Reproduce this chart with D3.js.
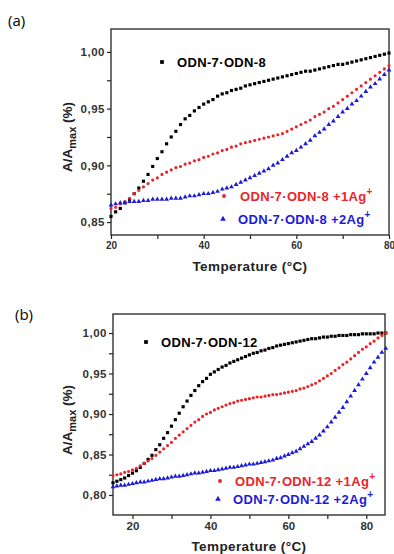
<!DOCTYPE html>
<html>
<head>
<meta charset="utf-8">
<script src="https://cdn.jsdelivr.net/npm/d3@7"></script>
<style>
  body { margin: 0; background: #fff; }
  text { font-family: "Liberation Sans", Arial, sans-serif; }
</style>
</head>
<body>
<div class="chart"></div>
<script>
const WIDTH = 394, HEIGHT = 554;

// panel (a): ODN-7·ODN-8
const tempsA = [20,21,22,23,24,25,26,27,28,29,30,31,32,33,34,35,36,37,38,39,40,41,42,43,44,45,46,47,48,49,
  50,51,52,53,54,55,56,57,58,59,60,61,62,63,64,65,66,67,68,69,70,71,72,73,74,75,76,77,78,79,80];
const odn8 = [.855,.859,.862,.867,.870,.875,.880,.886,.892,.899,
  .906,.912,.919,.925,.930,.936,.941,.944,.948,.951,
  .954,.956,.958,.961,.963,.964,.966,.967,.968,.970,
  .971,.972,.973,.974,.975,.976,.977,.978,.979,.980,
  .981,.982,.983,.983,.984,.985,.986,.987,.988,.989,
  .989,.990,.991,.992,.993,.994,.995,.996,.997,.998,.999];
const odn8Ag1 = [.862,.863,.866,.868,.871,.875,.878,.881,.884,.887,
  .889,.892,.894,.896,.898,.899,.901,.902,.904,.905,
  .907,.908,.910,.911,.913,.914,.916,.917,.919,.920,
  .921,.922,.923,.924,.925,.926,.927,.928,.930,.932,
  .934,.936,.938,.940,.943,.945,.947,.950,.952,.955,
  .958,.961,.964,.967,.970,.973,.976,.979,.982,.985,.988];
const odn8Ag2 = [.865,.866,.867,.867,.868,.868,.868,.869,.869,.870,
  .870,.870,.870,.871,.871,.871,.872,.873,.873,.874,
  .875,.875,.876,.877,.879,.880,.881,.883,.885,.887,
  .889,.891,.893,.895,.897,.900,.902,.905,.908,.911,
  .913,.916,.919,.922,.926,.929,.932,.936,.939,.943,
  .947,.950,.954,.957,.961,.965,.969,.972,.976,.980,.984];

// panel (b): ODN-7·ODN-12
const tempsB = [15,16,17,18,19,20,21,22,23,24,25,26,27,28,29,30,31,32,33,34,35,36,37,38,39,40,41,42,43,44,
  45,46,47,48,49,50,51,52,53,54,55,56,57,58,59,60,61,62,63,64,65,66,67,68,69,70,71,72,73,74,
  75,76,77,78,79,80,81,82,83,84,85];
const odn12 = [.815,.817,.819,.821,.824,.827,.830,.834,.839,.844,
  .849,.856,.862,.870,.877,.885,.893,.901,.909,.916,
  .923,.929,.935,.940,.944,.949,.952,.955,.958,.960,
  .963,.965,.967,.969,.971,.973,.975,.976,.978,.979,
  .981,.982,.984,.985,.986,.987,.988,.989,.990,.991,
  .992,.993,.993,.994,.995,.995,.996,.996,.997,.997,
  .997,.998,.998,.998,.999,.999,.999,.999,1.000,1.000,1.000];
const odn12Ag1 = [.824,.825,.826,.828,.829,.831,.833,.836,.839,.842,
  .845,.849,.853,.857,.861,.865,.870,.874,.878,.882,
  .886,.890,.893,.897,.900,.902,.905,.907,.909,.911,
  .913,.914,.916,.917,.918,.919,.920,.921,.921,.922,
  .923,.924,.924,.925,.926,.927,.928,.929,.931,.932,
  .934,.936,.938,.941,.944,.947,.950,.954,.957,.961,
  .964,.968,.972,.976,.980,.983,.987,.990,.994,.997,1.000];
const odn12Ag2 = [.810,.811,.812,.812,.813,.814,.815,.816,.816,.817,
  .818,.819,.820,.820,.821,.822,.823,.823,.824,.825,
  .826,.827,.827,.828,.829,.830,.830,.831,.832,.833,
  .834,.834,.835,.836,.837,.838,.838,.839,.840,.841,
  .842,.843,.845,.846,.848,.850,.852,.854,.857,.860,
  .863,.866,.870,.874,.879,.884,.890,.896,.902,.908,
  .915,.922,.929,.936,.943,.950,.957,.964,.970,.976,.981];

const xTicksA = [20,30,40,50,60,70,80], xLabelsA = [20,40,60,80];
const yTicksA = [.85,.875,.90,.925,.95,.975,1.00], yLabelsA = [.85,.90,.95,1.00];
const xTicksB = [20,30,40,50,60,70,80], xLabelsB = [20,40,60,80];
const yTicksB = [.80,.825,.85,.875,.90,.925,.95,.975,1.00], yLabelsB = [.80,.85,.90,.95,1.00];

const RED = "#e8262a", BLUE = "#1c1cd6";

const svg = d3.select(".chart").append("svg")
  .attr("width", WIDTH).attr("height", HEIGHT)
  .style("background", "#fff");

const fmt = d => d3.format(".2f")(d).replace(".", ",");

function drawPanel(p) {
  const x = d3.scaleLinear().domain(p.xDomain).range([p.left, p.right]);
  const y = d3.scaleLinear().domain(p.yDomain).range([p.bottom, p.top]);

  svg.append("text").attr("x", p.tagX).attr("y", p.tagY)
    .style("font-family", "'Open Sans', sans-serif").style("font-size", "15px")
    .text(p.tag);

  const yAxis = svg.append("g").attr("transform", `translate(${p.left},0)`)
    .call(d3.axisLeft(y).tickValues(p.yTicks).tickSize(4).tickPadding(2)
      .tickFormat(d => p.yLabels.some(v => Math.abs(v - d) < 1e-6) ? fmt(d) : ""));
  const xAxis = svg.append("g").attr("transform", `translate(0,${p.bottom})`)
    .call(d3.axisBottom(x).tickValues(p.xTicks).tickSize(4).tickPadding(3)
      .tickFormat(d => p.xLabels.includes(d) ? d : ""));
  [yAxis, xAxis].forEach(g => {
    g.select(".domain").remove();
    g.selectAll("line").attr("stroke", "#222").attr("stroke-width", 1.2);
    g.selectAll("text").attr("fill", "#333").style("font-weight", "bold")
      .style("font-family", "'Liberation Sans', Arial, sans-serif");
  });
  yAxis.selectAll("text").style("font-size", p.yTickSize).style("letter-spacing", "0.5px");
  xAxis.selectAll("text").style("font-size", p.xTickSize);

  svg.append("rect").attr("x", p.left).attr("y", p.top)
    .attr("width", p.right - p.left).attr("height", p.bottom - p.top)
    .attr("fill", "none").attr("stroke", "#222").attr("stroke-width", 1.3);

  const series = [
    { vals: p.s0, color: "#000", sym: d3.symbolSquare, size: 10 },
    { vals: p.s1, color: RED, sym: d3.symbolCircle, size: 8 },
    { vals: p.s2, color: BLUE, sym: d3.symbolTriangle, size: 10 }
  ];
  series.forEach(s => {
    svg.append("g").selectAll("path")
      .data(p.temps.map((t, i) => [t, s.vals[i]]))
      .join("path")
      .attr("transform", d => `translate(${x(d[0])},${y(d[1])})`)
      .attr("d", d3.symbol(s.sym, s.size))
      .attr("fill", s.color);
  });

  // axis titles
  svg.append("text").attr("x", (p.left + p.right) / 2).attr("y", p.xTitleY)
    .attr("text-anchor", "middle").style("font-weight", "bold").style("font-size", "13.5px")
    .style("letter-spacing", "0.4px").attr("fill", "#222").text("Temperature (°C)");
  const yt = svg.append("text")
    .attr("transform", `translate(${p.yTitleX},${p.yTitleY}) rotate(-90)`)
    .attr("text-anchor", "middle").style("font-weight", "bold").style("font-size", "13.5px")
    .attr("fill", "#222");
  yt.append("tspan").text("A/A");
  yt.append("tspan").attr("dy", 4).style("font-size", "11px").text("max");
  yt.append("tspan").attr("dy", -4).text(" (%)");

  // legend
  p.legend.forEach((l, i) => {
    const s = series[i];
    svg.append("path").attr("transform", `translate(${l.mx},${l.my})`)
      .attr("d", d3.symbol(s.sym, s.size + 4)).attr("fill", s.color);
    const t = svg.append("text").attr("x", l.tx).attr("y", l.my + 5)
      .attr("fill", s.color).style("font-weight", "bold").style("font-size", "13px")
      .style("letter-spacing", "0.35px")
      .text(l.label);
    if (l.sup) t.append("tspan").attr("dy", -6).style("font-size", "10px").text("+");
  });
}

drawPanel({
  tag: "(a)", tagX: 8, tagY: 26,
  left: 111, right: 389, top: 29, bottom: 235,
  xDomain: [20, 80], yDomain: [0.8386, 1.0202],
  xTicks: xTicksA, xLabels: xLabelsA, yTicks: yTicksA, yLabels: yLabelsA,
  xTickSize: "10px", yTickSize: "11.5px",
  temps: tempsA, s0: odn8, s1: odn8Ag1, s2: odn8Ag2,
  xTitleY: 271, yTitleX: 72, yTitleY: 137,
  legend: [
    { mx: 162, my: 62, tx: 177, label: "ODN-7·ODN-8" },
    { mx: 224, my: 196, tx: 240, label: "ODN-7·ODN-8 +1Ag", sup: true },
    { mx: 223, my: 219, tx: 238, label: "ODN-7·ODN-8 +2Ag", sup: true }
  ]
});

drawPanel({
  tag: "(b)", tagX: 15, tagY: 320,
  left: 113, right: 385, top: 314, bottom: 515,
  xDomain: [15, 84.8], yDomain: [0.7753, 1.0235],
  xTicks: xTicksB, xLabels: xLabelsB, yTicks: yTicksB, yLabels: yLabelsB,
  xTickSize: "11.5px", yTickSize: "11.5px",
  temps: tempsB, s0: odn12, s1: odn12Ag1, s2: odn12Ag2,
  xTitleY: 551, yTitleX: 72, yTitleY: 420,
  legend: [
    { mx: 146, my: 342, tx: 161, label: "ODN-7·ODN-12" },
    { mx: 220, my: 481, tx: 235, label: "ODN-7·ODN-12 +1Ag", sup: true },
    { mx: 218, my: 499, tx: 233, label: "ODN-7·ODN-12 +2Ag", sup: true }
  ]
});
</script>
</body>
</html>
